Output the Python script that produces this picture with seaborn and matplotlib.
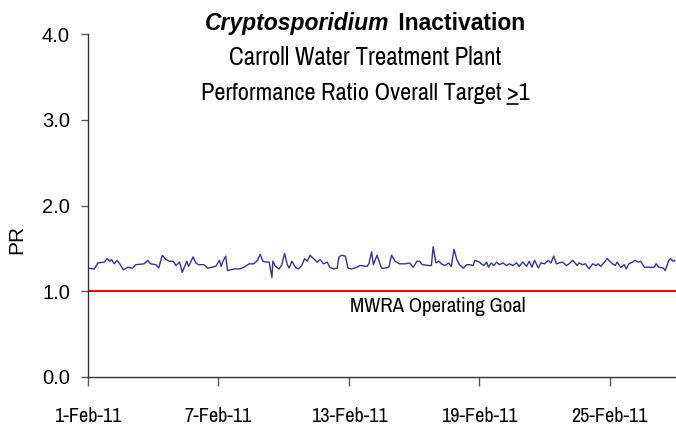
import numpy as np
import pandas as pd
import matplotlib
matplotlib.use("Agg")
import matplotlib.pyplot as plt
import matplotlib.transforms as mtransforms
from matplotlib.lines import Line2D
import seaborn as sns

# ---- data ----
hours = [0, 7, 11, 18, 21, 24, 26, 29, 32, 35, 39, 44, 49, 53, 62, 66, 69, 75, 78, 82, 86, 90, 94, 97, 101, 104,
         109, 111, 116, 119, 122, 128, 132, 137, 141, 145, 147, 149, 152, 154, 161, 167, 172, 178, 183, 187, 190,
         193, 196, 200, 203, 204, 207, 211, 214,
         217, 220, 222, 225, 229, 232, 236, 239, 242, 245, 249, 253, 256, 260, 264, 267, 271, 275, 277, 280, 284,
         287, 291, 297, 300, 308, 310, 313, 315, 319, 324,
         328, 332, 335, 339, 344, 350, 355, 359, 363, 366, 369, 376, 379, 381, 384, 387, 390, 394, 398, 401, 404,
         407, 410, 414, 418, 421, 425, 427, 432,
         434, 437, 440, 442, 445, 448, 451, 454, 458, 462, 465, 469, 473, 476, 480, 484, 487, 490, 493, 497, 500,
         504, 508, 511, 514, 517, 520, 524, 528, 531, 535, 540,
         542, 546, 549, 553, 557, 561, 563, 566, 570, 573, 575, 579, 582, 584, 588, 592, 594, 597, 601, 604, 607,
         610, 614, 619, 625, 627, 630, 635, 637, 641, 643, 646, 648]
pr = [1.27, 1.26, 1.33, 1.34, 1.38, 1.35, 1.37, 1.32, 1.36, 1.32, 1.25, 1.28, 1.27, 1.31, 1.32, 1.36, 1.32, 1.31,
      1.27, 1.42, 1.37, 1.35, 1.35, 1.30, 1.34, 1.22,
      1.35, 1.29, 1.40, 1.33, 1.31, 1.31, 1.27, 1.28, 1.29, 1.36, 1.29, 1.35, 1.41, 1.24, 1.26, 1.26, 1.28, 1.32,
      1.32, 1.36, 1.43, 1.35, 1.34, 1.34, 1.16, 1.35, 1.29, 1.26, 1.31,
      1.44, 1.31, 1.27, 1.35, 1.28, 1.26, 1.30, 1.38, 1.35, 1.42, 1.38, 1.34, 1.37, 1.32, 1.34, 1.28, 1.26, 1.27,
      1.40, 1.42, 1.41, 1.27, 1.26, 1.28, 1.30, 1.29, 1.32, 1.46, 1.31, 1.42, 1.27,
      1.27, 1.28, 1.42, 1.35, 1.32, 1.32, 1.33, 1.28, 1.35, 1.35, 1.31, 1.30, 1.30, 1.52, 1.33, 1.35, 1.32, 1.30,
      1.33, 1.29, 1.49, 1.37, 1.31, 1.27, 1.31, 1.31, 1.30, 1.36, 1.34,
      1.32, 1.30, 1.34, 1.28, 1.33, 1.30, 1.34, 1.31, 1.33, 1.30, 1.32, 1.30, 1.33, 1.29, 1.34, 1.29, 1.35, 1.28,
      1.36, 1.27, 1.33, 1.32, 1.36, 1.33, 1.41, 1.32, 1.33, 1.34, 1.30, 1.32, 1.36, 1.30,
      1.33, 1.31, 1.32, 1.26, 1.32, 1.30, 1.32, 1.29, 1.34, 1.38, 1.36, 1.32, 1.30, 1.34, 1.28, 1.31, 1.26, 1.32,
      1.34, 1.36, 1.34, 1.35, 1.28, 1.28, 1.28, 1.32, 1.28, 1.27, 1.24, 1.36, 1.38, 1.35, 1.36]
goal = 1.0
goal_label = "MWRA Operating Goal"
start_date = "2011-02-01"
tick_dates = ["2011-02-01", "2011-02-07", "2011-02-13", "2011-02-19", "2011-02-25"]
tick_labels = ["1-Feb-11", "7-Feb-11", "13-Feb-11", "19-Feb-11", "25-Feb-11"]
yticks = [0, 1, 2, 3, 4]
ytick_labels = ["0.0", "1.0", "2.0", "3.0", "4.0"]
title_italic = "Cryptosporidium"
title_rest = " Inactivation"
subtitle1 = "Carroll Water Treatment Plant"
subtitle2 = "Performance Ratio Overall Target >1"
ylabel = "PR"

base = pd.Timestamp(start_date)
df = pd.DataFrame({"date": base + pd.to_timedelta(hours, unit="h"), "PR": pr})

sns.set_style("ticks")
plt.rcParams["font.family"] = ["Liberation Sans", "DejaVu Sans"]
plt.rcParams["text.color"] = "black"
plt.rcParams["xtick.labelcolor"] = "black"
plt.rcParams["ytick.labelcolor"] = "black"
plt.rcParams["axes.labelcolor"] = "black"
NARROW = ["Archivo Narrow", "Liberation Sans", "DejaVu Sans"]
REG = ["Liberation Sans", "DejaVu Sans"]

fig = plt.figure(figsize=(6.76, 4.28), dpi=100)
ax = fig.add_axes([88 / 676, 51 / 428, 588 / 676, 343 / 428])

sns.lineplot(data=df, x="date", y="PR", ax=ax, color="#333399", linewidth=1.0)
ax.axhline(goal, color="#FF0000", linewidth=1.5)

ax.set_ylim(0, 4)
ax.set_xlim(base, base + pd.Timedelta(hours=649))
ax.set_yticks(yticks)
ax.set_yticklabels(ytick_labels, fontsize=14.5)
ax.set_xticks(pd.to_datetime(tick_dates))
ax.set_xticklabels(tick_labels, fontsize=14.5, family=NARROW)
ax.set_xlabel("")
ax.set_ylabel(ylabel, fontsize=15)
ax.yaxis.set_label_coords(-0.105, 0.40)

ax.tick_params(axis="x", length=6.5, width=1, pad=15, color="#555555")
ax.tick_params(axis="y", length=5, width=1, pad=8, color="#555555")
for s in ["top", "right"]:
    ax.spines[s].set_visible(False)
for s in ["left", "bottom"]:
    ax.spines[s].set_color("#333333")
    ax.spines[s].set_linewidth(1)

tr = mtransforms.blended_transform_factory(ax.transAxes, ax.transData)
ax.text(0.594, 0.82, goal_label, transform=tr, ha="center", va="center",
        fontsize=15, family=NARROW)

# titles
cx = 365 / 676
t1 = fig.text(cx, 1 - 30 / 428, title_italic, fontsize=16.5, style="italic", fontweight="bold",
              family=REG, ha="left", va="baseline")
t2 = fig.text(cx, 1 - 30 / 428, title_rest, fontsize=16.5, fontweight="bold",
              family=REG, ha="left", va="baseline")
s1 = fig.text(cx, 1 - 65 / 428, subtitle1, fontsize=18, family=NARROW, ha="center", va="baseline")
s2 = fig.text(cx, 1 - 100 / 428, subtitle2, fontsize=17.5, family=NARROW, ha="center", va="baseline")

fig.canvas.draw()
r = fig.canvas.get_renderer()
w1 = t1.get_window_extent(r).width
w2 = t2.get_window_extent(r).width
W = fig.bbox.width
total = w1 + w2 + 3
x0 = cx * W - total / 2
t1.set_x(x0 / W)
t2.set_x((x0 + w1 + 3) / W)

# underline the ">" of ">1"
bb = s2.get_window_extent(r)
tmp_a = fig.text(0, 0, ">1", fontsize=17.5, family=NARROW)
tmp_b = fig.text(0, 0, "1", fontsize=17.5, family=NARROW)
wa = tmp_a.get_window_extent(r).width
wb = tmp_b.get_window_extent(r).width
tmp_a.remove()
tmp_b.remove()
ux0 = bb.x1 - wa
ux1 = bb.x1 - wb
uy = (1 - 104 / 428) * fig.bbox.height
fig.add_artist(Line2D([ux0 / W, ux1 / W], [uy / fig.bbox.height] * 2, transform=fig.transFigure,
                      color="black", linewidth=1.2))

fig.savefig("out.png", dpi=100)
